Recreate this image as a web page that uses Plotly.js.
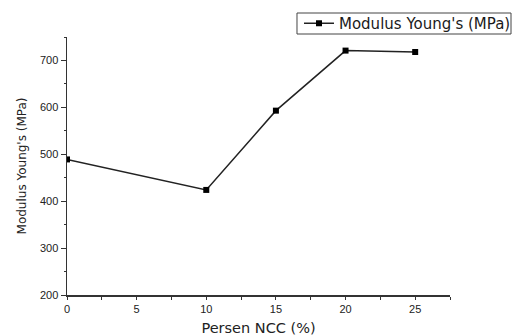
<!DOCTYPE html>
<html>
<head>
<meta charset="utf-8">
<script src="https://cdn.plot.ly/plotly-3.0.1.min.js"></script>
<style>html,body{margin:0;padding:0;background:#fff;}#chart{width:516px;height:336px;}</style>
</head>
<body>
<div id="chart"></div>
<script>
const persenNCC = [0, 10, 15, 20, 25];
const modulusYoung = [489, 424, 593, 721, 718];
const seriesName = "Modulus Young's (MPa)";
const xTitle = "Persen NCC (%)";
const yTitle = "Modulus Young's (MPa)";
const xTicks = [0, 5, 10, 15, 20, 25];
const yTicks = [200, 300, 400, 500, 600, 700];

const trace = {
  x: persenNCC,
  y: modulusYoung,
  type: 'scatter',
  mode: 'lines+markers',
  name: seriesName,
  line: {color: '#222222', width: 1.5},
  marker: {symbol: 'square', size: 6, color: '#000000'}
};

const sans = 'Liberation Sans, Arial, sans-serif';
const wide = 'DejaVu Sans, sans-serif';

const layout = {
  width: 516, height: 336,
  margin: {l: 67, r: 66, t: 37, b: 41, autoexpand: false},
  paper_bgcolor: '#ffffff', plot_bgcolor: '#ffffff',
  font: {family: sans, color: '#333333'},
  showlegend: true,
  legend: {
    x: 0.6057, y: 1.0523, xanchor: 'left', yanchor: 'middle',
    borderwidth: 0, bgcolor: 'rgba(0,0,0,0)',
    font: {family: wide, size: 15, color: '#1a1a1a'},
    tracegroupgap: 0, itemwidth: 30
  },
  shapes: [{
    type: 'rect', xref: 'paper', yref: 'paper',
    x0: 0.6005, x1: 1.1593, y0: 1.0116, y1: 1.093,
    line: {color: '#444444', width: 1}, fillcolor: 'rgba(0,0,0,0)', layer: 'below'
  }],
  xaxis: {
    range: [0, 27.5], tickvals: xTicks, automargin: false,
    showgrid: false, zeroline: false,
    showline: true, linecolor: '#333333', linewidth: 1.5,
    ticks: 'outside', ticklen: 3, tickwidth: 1, tickcolor: '#333333',
    minor: {dtick: 2.5, tick0: 0, ticks: 'outside', ticklen: 3, tickcolor: '#333333', showgrid: false},
    tickfont: {family: sans, size: 11, color: '#222222'},
    title: {text: xTitle, font: {family: wide, size: 14.5, color: '#222222'}, standoff: 9}
  },
  yaxis: {
    range: [200, 750], tickvals: yTicks, automargin: false,
    showgrid: false, zeroline: false,
    showline: true, linecolor: '#333333', linewidth: 1.5,
    ticks: 'outside', ticklen: 5, tickwidth: 1, tickcolor: '#333333',
    minor: {dtick: 50, tick0: 0, ticks: 'outside', ticklen: 2, tickcolor: '#333333', showgrid: false},
    tickfont: {family: sans, size: 11, color: '#222222'},
    title: {text: yTitle, font: {family: wide, size: 12, color: '#222222'}, standoff: 10}
  }
};

Plotly.newPlot('chart', [trace], layout, {displayModeBar: false, staticPlot: true});
</script>
</body>
</html>
